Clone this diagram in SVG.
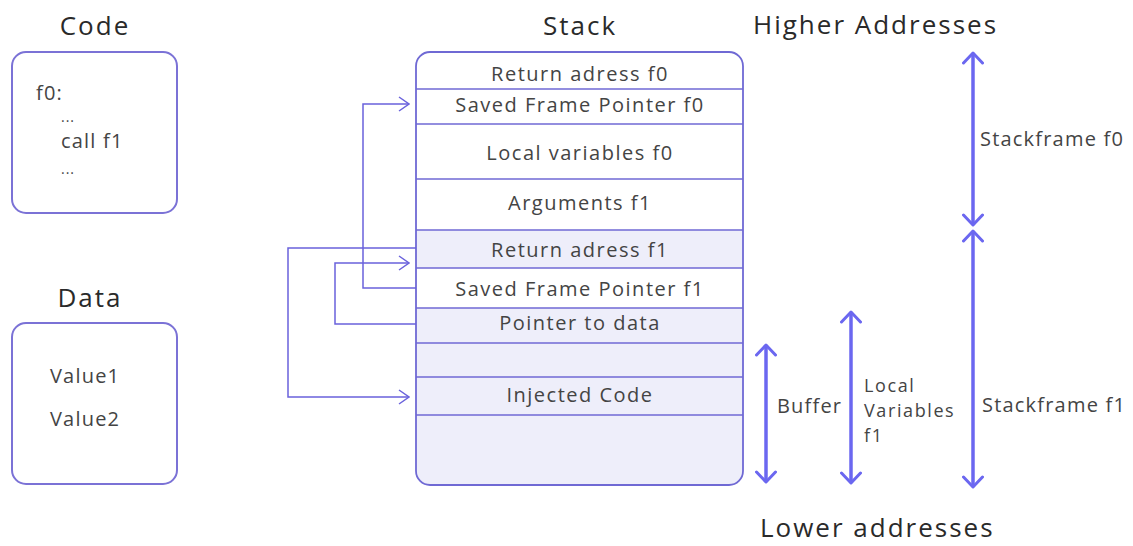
<svg xmlns="http://www.w3.org/2000/svg" width="1133" height="546" viewBox="0 0 1133 546">
  <style>
    .title { font-family: "Open Sans", "DejaVu Sans", sans-serif; font-size: 26px; letter-spacing: 2px; fill: #2a2a2a; }
    .txt { font-family: "Open Sans", "DejaVu Sans", sans-serif; font-size: 20px; letter-spacing: 1.5px; fill: #444; }
    .small { font-family: "Open Sans", "DejaVu Sans", sans-serif; font-size: 20px; letter-spacing: 1.2px; fill: #444; }
    .lv { font-family: "Open Sans", "DejaVu Sans", sans-serif; font-size: 18px; letter-spacing: 1.6px; fill: #444; }
    .dots { font-family: "Open Sans", "DejaVu Sans", sans-serif; font-size: 14px; letter-spacing: 1px; fill: #444; }
    .box { fill: #fff; stroke: #7b72d6; stroke-width: 2; }
    .row { stroke: #6f69d4; stroke-width: 1.6; }
    .conn { fill: none; stroke: #6a62dc; stroke-width: 1.5; }
    .range { fill: none; stroke: #6b67f0; stroke-width: 3.5; }
  </style>
  <defs>
    <marker id="chev" viewBox="0 0 12 16" refX="11" refY="8" markerWidth="12" markerHeight="16" markerUnits="userSpaceOnUse" orient="auto">
      <path d="M1,1 L11,8 L1,15" fill="none" stroke="#6a62dc" stroke-width="1.5"/>
    </marker>
    <marker id="dbl" viewBox="0 0 14 22" refX="12" refY="11" markerWidth="14" markerHeight="22" markerUnits="userSpaceOnUse" orient="auto-start-reverse">
      <path d="M2,1.5 L12,11 L2,20.5" fill="none" stroke="#6b67f0" stroke-width="3" stroke-linecap="round" stroke-linejoin="round"/>
    </marker>
    <clipPath id="stackClip">
      <rect x="416" y="52" width="327" height="433" rx="14"/>
    </clipPath>
  </defs>

  <rect width="1133" height="546" fill="#fff"/>

  <g id="code">
    <text class="title" x="95" y="35" text-anchor="middle">Code</text>
    <rect class="box" x="12" y="52" width="165" height="161" rx="14"/>
    <text class="small" x="36" y="100">f0:</text>
    <text class="dots" x="61" y="122">...</text>
    <text class="small" x="61" y="148">call f1</text>
    <text class="dots" x="61" y="174">...</text>
  </g>

  <g id="data">
    <text class="title" x="90" y="307" text-anchor="middle">Data</text>
    <rect class="box" x="12" y="323" width="165" height="161" rx="14"/>
    <text class="small" x="50" y="383">Value1</text>
    <text class="small" x="50" y="426">Value2</text>
  </g>

  <g id="stack">
    <text class="title" x="580" y="35" text-anchor="middle">Stack</text>
    <g clip-path="url(#stackClip)">
      <rect x="416" y="52" width="327" height="433" fill="#fff"/>
      <rect x="416" y="230" width="327" height="38" fill="#eeeefa"/>
      <rect x="416" y="308" width="327" height="177" fill="#eeeefa"/>
    </g>
    <rect x="416" y="52" width="327" height="433" rx="14" fill="none" stroke="#6f69d4" stroke-width="1.8"/>
    <line class="row" x1="416" y1="89" x2="743" y2="89"/>
    <line class="row" x1="416" y1="124" x2="743" y2="124"/>
    <line class="row" x1="416" y1="179" x2="743" y2="179"/>
    <line class="row" x1="416" y1="230" x2="743" y2="230"/>
    <line class="row" x1="416" y1="268" x2="743" y2="268"/>
    <line class="row" x1="416" y1="308" x2="743" y2="308"/>
    <line class="row" x1="416" y1="343" x2="743" y2="343"/>
    <line class="row" x1="416" y1="377" x2="743" y2="377"/>
    <line class="row" x1="416" y1="415" x2="743" y2="415"/>
    <text class="txt" x="580" y="81" text-anchor="middle">Return adress f0</text>
    <text class="txt" x="580" y="112" text-anchor="middle">Saved Frame Pointer f0</text>
    <text class="txt" x="580" y="160" text-anchor="middle">Local variables f0</text>
    <text class="txt" x="580" y="210" text-anchor="middle">Arguments f1</text>
    <text class="txt" x="580" y="257" text-anchor="middle">Return adress f1</text>
    <text class="txt" x="580" y="296" text-anchor="middle">Saved Frame Pointer f1</text>
    <text class="txt" x="580" y="330" text-anchor="middle">Pointer to data</text>
    <text class="txt" x="580" y="402" text-anchor="middle">Injected Code</text>
  </g>

  <g id="connectors">
    <path class="conn" d="M416,288 H363 V104 H409" marker-end="url(#chev)"/>
    <path class="conn" d="M416,248 H288 V397 H409" marker-end="url(#chev)"/>
    <path class="conn" d="M416,324 H335 V263 H409" marker-end="url(#chev)"/>
  </g>

  <g id="ranges">
    <path class="range" d="M973,53 V225" marker-start="url(#dbl)" marker-end="url(#dbl)"/>
    <path class="range" d="M973,231 V487" marker-start="url(#dbl)" marker-end="url(#dbl)"/>
    <path class="range" d="M766,345 V482" marker-start="url(#dbl)" marker-end="url(#dbl)"/>
    <path class="range" d="M851,312 V483" marker-start="url(#dbl)" marker-end="url(#dbl)"/>
  </g>

  <g id="labels">
    <text class="title" x="753" y="34">Higher Addresses</text>
    <text class="title" x="760" y="537">Lower addresses</text>
    <text class="small" x="980" y="146">Stackframe f0</text>
    <text class="small" x="982" y="412">Stackframe f1</text>
    <text class="small" x="777" y="413">Buffer</text>
    <text class="lv" x="864" y="392">Local</text>
    <text class="lv" x="864" y="417">Variables</text>
    <text class="lv" x="864" y="442">f1</text>
  </g>
</svg>
